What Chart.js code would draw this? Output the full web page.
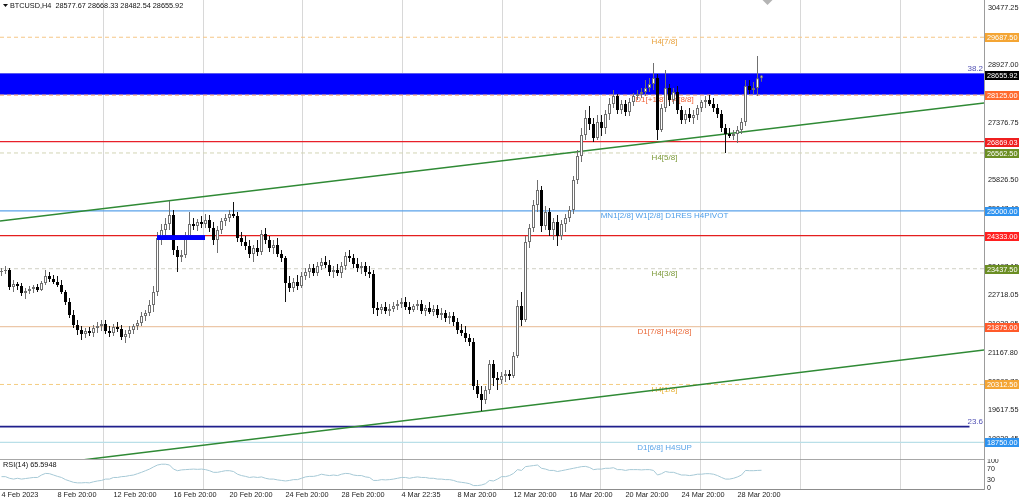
<!DOCTYPE html>
<html lang="en">
<head>
<meta charset="UTF-8">
<title>BTCUSD,H4</title>
<script src="https://cdn.jsdelivr.net/npm/chart.js"></script>
<style>
    html, body { margin: 0; padding: 0; background: #fff; }
    .wrap { position: relative; width: 1024px; height: 501px; overflow: hidden; background: #fff; }
    #mainChart { position: absolute; left: 0; top: 0; }
    #rsiChart { position: absolute; left: 0; top: 459px; }
</style>
</head>
<body>
<div class="wrap">
    <canvas id="mainChart" width="1024" height="459"></canvas>
    <canvas id="rsiChart" width="1024" height="42"></canvas>
</div>
<script>
// ---- candles (H4) ----
const openP = [23349,23376,23403,22944,23025,22971,22782,22836,22890,22944,
    22863,23052,23241,23160,23079,22998,22809,22539,22188,21918,
    21783,21675,21756,21702,21837,21891,21945,21756,21702,21864,
    21810,21594,21675,21783,21891,21972,22161,22242,22458,22809,
    24267,24483,24645,24888,23943,23754,23808,24321,24645,24591,
    24699,24645,24753,24537,24213,24483,24726,24807,24915,24861,
    24267,24159,24051,23835,23997,23889,24375,24213,23997,24078,
    23835,23727,23052,22917,23079,22971,23241,23349,23457,23322,
    23511,23619,23538,23349,23403,23322,23511,23781,23727,23565,
    23457,23511,23349,23295,22377,22323,22404,22296,22350,22431,
    22485,22539,22404,22323,22431,22485,22296,22377,22269,22350,
    22188,22242,22107,22161,21999,21783,21702,21567,21459,20271,
    20055,19893,20163,20865,20487,20433,20541,20595,20541,21081,
    22431,22053,24159,24537,25158,25563,24591,24969,24483,24699,
    24321,24645,24807,25023,25833,26481,27048,27507,27345,26967,
    27399,27237,27615,27885,28101,27723,27885,27669,27939,28101,
    28155,28209,28317,28425,28587,27183,27777,28317,27993,28209,
    27723,27453,27615,27507,27588,27777,27939,27993,27885,27777,
    27615,27237,27075,27021,27075,27183,27399,28371,28263,28317,
    28577.67];
const highP = [23457,23511,23457,23133,23079,23052,22917,22971,22998,23025,
    23106,23403,23349,23268,23241,23133,22863,22647,22323,22053,
    21891,21837,21864,21918,21999,22053,22053,21891,21945,21999,
    21918,21783,21891,21945,22053,22269,22323,22593,22971,24429,
    24645,24807,25266,25023,24051,23943,24429,24969,24807,24780,
    24861,24915,24888,24699,24591,24807,24915,25023,25239,24969,
    24429,24321,24213,24078,24213,24483,24537,24321,24213,24267,
    23943,23781,23241,23187,23268,23349,23457,23565,23565,23619,
    23727,23781,23673,23511,23565,23619,23889,23943,23835,23727,
    23619,23619,23511,23403,22539,22485,22539,22485,22539,22593,
    22647,22674,22539,22485,22593,22593,22458,22539,22458,22458,
    22377,22323,22269,22269,22107,21945,21891,21675,21567,20433,
    20271,20271,20973,20973,20649,20649,20703,20703,21189,22593,
    22809,24321,24645,25293,25833,25671,25131,25077,24807,24888,
    24753,24915,25131,25941,26643,27237,27723,27831,27507,27588,
    27588,27723,28047,28263,28155,27993,27993,28047,28182,28263,
    28317,28533,28587,28992,28695,27885,28803,28425,28317,28371,
    27831,27723,27777,27723,27858,27993,28101,28128,28047,27885,
    27723,27345,27237,27183,27291,27507,28533,28533,28479,29181,
    28668.33];
const lowP = [23241,23295,22863,22809,22863,22701,22620,22755,22782,22809,
    22836,22998,23079,23025,22944,22755,22458,22107,21837,21648,
    21513,21567,21621,21594,21702,21756,21675,21594,21621,21729,
    21513,21432,21567,21675,21783,21891,22026,22161,22269,22701,
    24078,24321,24483,23808,23349,23619,23727,24213,24483,24456,
    24537,24537,24429,24078,23862,24375,24591,24699,24807,24159,
    24051,23943,23727,23619,23781,23808,24105,23889,23835,23754,
    23619,22539,22809,22809,22863,22917,23133,23187,23241,23241,
    23403,23457,23241,23187,23241,23187,23403,23619,23457,23349,
    23295,23241,23187,22215,22161,22215,22215,22161,22269,22323,
    22377,22323,22215,22269,22323,22215,22161,22215,22161,22107,
    22053,21999,21945,21891,21675,21621,21459,21351,20163,19947,
    19596,19785,20055,20271,20163,20325,20379,20433,20487,21027,
    21891,21999,23997,24429,24969,24429,24483,24321,24213,24051,
    24213,24429,24699,24915,25725,26319,26913,27183,26859,26913,
    27021,27075,27453,27777,27615,27615,27561,27561,27831,27993,
    28047,28101,28209,28263,26913,27129,27669,27831,27885,27615,
    27345,27345,27399,27345,27453,27669,27777,27831,27669,27507,
    27129,26562,26967,26913,26832,27075,27291,28155,28155,28101,
    28482.54];
const closeP = [23376,23403,22944,23025,22971,22782,22836,22890,22944,22863,
    23052,23241,23160,23079,22998,22809,22539,22188,21918,21783,
    21675,21756,21702,21837,21891,21945,21756,21702,21864,21810,
    21594,21675,21783,21891,21972,22161,22242,22458,22809,24267,
    24483,24645,24888,23943,23754,23808,24321,24645,24591,24699,
    24645,24753,24537,24213,24483,24726,24807,24915,24861,24267,
    24159,24051,23835,23997,23889,24375,24213,23997,24078,23835,
    23727,23052,22917,23079,22971,23241,23349,23457,23322,23511,
    23619,23538,23349,23403,23322,23511,23781,23727,23565,23457,
    23511,23349,23295,22377,22323,22404,22296,22350,22431,22485,
    22539,22404,22323,22431,22485,22296,22377,22269,22350,22188,
    22242,22107,22161,21999,21783,21702,21567,21459,20271,20055,
    19893,20163,20865,20487,20433,20541,20595,20541,21081,22431,
    22053,24159,24537,25158,25563,24591,24969,24483,24699,24321,
    24645,24807,25023,25833,26481,27048,27507,27345,26967,27399,
    27237,27615,27885,28101,27723,27885,27669,27939,28101,28155,
    28209,28317,28425,28587,27183,27777,28317,27993,28209,27723,
    27453,27615,27507,27588,27777,27939,27993,27885,27777,27615,
    27237,27075,27021,27075,27183,27399,28371,28263,28317,28578,
    28655.92];

// ---- RSI(14) ----
const rsiVals = [42,42,36,33,36,33,35,37,39,39,
    48,54,53,48,43,39,31,26,21,19,
    19,20,19,23,26,28,33,33,39,39,
    42,43,46,48,53,58,64,70,78,85,
    88,88,85,70,64,67,68,69,70,69,
    70,68,64,58,58,61,64,64,61,51,
    46,43,39,41,39,41,36,33,33,30,
    28,26,28,31,31,36,41,43,43,46,
    51,48,46,48,46,51,54,53,48,46,
    46,41,39,28,28,31,30,31,33,36,
    39,39,36,39,41,39,39,36,36,33,
    33,31,31,28,23,21,19,16,9,9,
    11,16,28,26,33,42,42,46,54,68,
    65,79,81,83,85,73,70,65,65,61,
    64,67,70,73,76,79,80,76,68,70,
    70,73,73,75,68,68,65,68,68,68,
    67,68,68,65,48,53,61,58,58,53,
    48,48,46,48,51,51,53,53,51,46,
    39,33,33,36,41,48,65,64,64,65,
    65.59];

// ---- axes ----
const timeTicks = [0, 14, 28, 43, 57, 71, 85, 100, 114, 128, 142, 156, 170, 184];
const timeLabels = ['4 Feb 2023', '8 Feb 20:00', '12 Feb 20:00', '16 Feb 20:00', '20 Feb 20:00',
    '24 Feb 20:00', '28 Feb 20:00', '4 Mar 22:35', '8 Mar 20:00', '12 Mar 20:00',
    '16 Mar 20:00', '20 Mar 20:00', '24 Mar 20:00', '28 Mar 20:00'];
const priceTicks = [30477.25, 29702.10, 28927.00, 28151.90, 27376.75, 26601.60, 25826.50, 25047.40,
    24272.25, 23497.15, 22718.05, 21938.95, 21167.80, 20388.70, 19617.55, 18838.45];
const rsiTicks = [0, 30, 70, 100];
const gridBars = [25.375, 50.375, 75.125, 100.125, 125.125, 149.625, 174.625, 199.625, 224.625];

// ---- drawn objects ----
const levelValues = [29687.50, 28125.00, 26869.03, 26562.50, 25000.00, 24333.00, 23437.50, 21875.00, 20312.50, 18750.00];
const levelNames = ['H4[7/8]', 'D1[+1/8] H4[8/8]', '', 'H4[5/8]', 'MN1[2/8] W1[2/8] D1RES H4PIVOT', '',
    'H4[3/8]', 'D1[7/8] H4[2/8]', 'H4[1/8]', 'D1[6/8] H4SUP'];
const lastPrice = 28655.92;
const zoneTop = 28708, zoneBottom = 28142;
const smallZone = { from: 38.875, to: 50.875, top: 24330, bottom: 24215 };
const fibValues = [28708, 19175];
const fibLabels = ['38.2', '23.6'];
const trendUpper = [24726, 27912];
const trendLower = [18003, 21243];
const titleText = 'BTCUSD,H4  28577.67 28668.33 28482.54 28655.92';
const rsiTitle = 'RSI(14) 65.5948';

// styles
const levelStyles = [
    { line: '#f6c785', dash: [4, 3], box: '#f4a534', text: '#e9a23c' },
    { line: '#f59a70', dash: [4, 3], box: '#ff6a2e', text: '#f0643a' },
    { line: '#e8202a', dash: [], box: '#ef1f1f', text: null },
    { line: '#d2d4b4', dash: [4, 3], box: '#6b8e23', text: '#7d9a3a' },
    { line: '#5aa2ea', dash: [], box: '#2e93f0', text: '#4c9de8' },
    { line: '#e41e1e', dash: [], box: '#ff1f1f', text: null },
    { line: '#d0d0c4', dash: [4, 3], box: '#6b8e23', text: '#7d9a3a' },
    { line: '#ecc7a8', dash: [], box: '#ff5a2a', text: '#ea6a3a' },
    { line: '#f4cc80', dash: [4, 3], box: '#f4a534', text: '#e8b43a' },
    { line: '#b9dfe8', dash: [], box: '#2e93f0', text: '#5aa4e8' }
];

const xMin = -0.375, xMax = 245.625;
const yMax = 30693, yMin = 30693 - 27 * 459;
const FONT = '"Liberation Sans", Arial, sans-serif';
Chart.defaults.font.family = FONT;

const idx = openP.map((_, i) => i);
const bull = idx.map(i => closeP[i] >= openP[i]);

function hLine(v, x0, x1) {
    return [{ x: x0, y: v }, { x: x1, y: v }];
}

// no extra room for edge labels: the plot must fill the panel exactly
function noPad(s) {
    s.paddingTop = 0; s.paddingBottom = 0; s.paddingLeft = 0; s.paddingRight = 0;
}

const datasets = [];

// blue zone
datasets.push({
    type: 'line', data: hLine(zoneTop, xMin, xMax), order: 20,
    borderColor: '#5a5af2', borderWidth: 1, pointRadius: 0,
    backgroundColor: '#0000ff', fill: { value: zoneBottom }
});
datasets.push({
    type: 'line', data: hLine(zoneBottom, xMin, xMax), order: 19,
    borderColor: '#5a5af2', borderWidth: 1, pointRadius: 0, fill: false
});

// levels
levelValues.forEach((v, k) => {
    datasets.push({
        type: 'line', data: hLine(v, xMin, xMax), order: 15,
        borderColor: levelStyles[k].line, borderDash: levelStyles[k].dash,
        borderWidth: levelStyles[k].dash.length ? 1 : 1.3, pointRadius: 0, fill: false
    });
});

// fibo 23.6
datasets.push({
    type: 'line', data: hLine(fibValues[1], xMin, 242), order: 14,
    borderColor: '#1f1f8c', borderWidth: 1.6, pointRadius: 0, fill: false
});

// trend channel
[trendUpper, trendLower].forEach(t => {
    datasets.push({
        type: 'line', data: [{ x: xMin, y: t[0] }, { x: xMax, y: t[1] }], order: 12,
        borderColor: '#2f8a35', borderWidth: 1.5, pointRadius: 0, fill: false
    });
});

// candles
datasets.push({
    type: 'bar', order: 3, grouped: false,
    data: idx.map(i => ({ x: i, y: [lowP[i], highP[i]] })),
    backgroundColor: ctx => bull[ctx.dataIndex] ? '#707070' : '#111',
    barThickness: 1, borderWidth: 0, inflateAmount: 0
});
datasets.push({
    type: 'bar', order: 2, grouped: false,
    data: idx.map(i => ({ x: i, y: [openP[i], closeP[i]] })),
    backgroundColor: ctx => bull[ctx.dataIndex] ? '#ffffff' : '#000000',
    borderColor: ctx => bull[ctx.dataIndex] ? '#707070' : '#000000',
    borderWidth: 1, borderSkipped: false, barThickness: 3, inflateAmount: 0
});

// small blue block
datasets.push({
    type: 'line', data: hLine(smallZone.top, smallZone.from, smallZone.to), order: 1,
    borderColor: '#0000ff', borderWidth: 1, pointRadius: 0,
    backgroundColor: '#0000ff', fill: { value: smallZone.bottom }
});

const overlayPlugin = {
    id: 'overlay',
    beforeDatasetsDraw(chart) {
        const ctx = chart.ctx, ys = chart.scales.y, xs = chart.scales.x;
        const cx = xs.getPixelForValue(165.75);
        ctx.save();
        ctx.font = '8px ' + FONT;
        ctx.textAlign = 'center';
        ctx.textBaseline = 'middle';
        levelValues.forEach((v, k) => {
            if (!levelNames[k]) return;
            ctx.fillStyle = levelStyles[k].text;
            ctx.fillText(levelNames[k], cx, ys.getPixelForValue(v) + 5);
        });
        ctx.restore();
    },
    afterDraw(chart) {
        const ctx = chart.ctx, ys = chart.scales.y, xs = chart.scales.x;
        const right = chart.chartArea.right;
        ctx.save();
        // fibo labels
        ctx.font = '8px ' + FONT;
        ctx.fillStyle = '#5050b4';
        ctx.textAlign = 'right';
        ctx.textBaseline = 'bottom';
        fibValues.forEach((v, k) => ctx.fillText(fibLabels[k], right - 1, ys.getPixelForValue(v) - 0.5));
        // price boxes
        ctx.font = '7.3px ' + FONT;
        ctx.textAlign = 'left';
        ctx.textBaseline = 'middle';
        const box = (v, bg, fg) => {
            const y = Math.round(ys.getPixelForValue(v));
            ctx.fillStyle = bg;
            ctx.fillRect(right + 1, y - 4, 34, 9);
            ctx.fillStyle = fg;
            ctx.fillText(v.toFixed(2), right + 3, y + 0.5);
        };
        levelValues.forEach((v, k) => box(v, levelStyles[k].box, '#ffffff'));
        box(lastPrice, '#000000', '#ffffff');
        // title
        ctx.fillStyle = '#111';
        ctx.beginPath();
        ctx.moveTo(3, 4); ctx.lineTo(8, 4); ctx.lineTo(5.5, 7); ctx.closePath();
        ctx.fill();
        ctx.font = '7.3px ' + FONT;
        ctx.fillText(titleText, 10, 6);
        // shift marker
        const sx = xs.getPixelForValue(191.5);
        ctx.fillStyle = '#b4b4b4';
        ctx.beginPath();
        ctx.moveTo(sx - 5, 0); ctx.lineTo(sx + 5, 0); ctx.lineTo(sx, 5); ctx.closePath();
        ctx.fill();
        ctx.restore();
    }
};

new Chart(document.getElementById('mainChart'), {
    type: 'bar',
    data: { datasets: datasets },
    options: {
        responsive: false,
        animation: false,
        events: [],
        layout: { padding: 0 },
        plugins: { legend: { display: false }, tooltip: { enabled: false } },
        scales: {
            x: {
                type: 'linear', min: xMin, max: xMax, offset: false,
                afterBuildTicks: s => { s.ticks = gridBars.map(v => ({ value: v })); },
                afterFit: s => { s.height = 0; noPad(s); },
                ticks: { display: false },
                grid: { color: '#d8d8d8', drawTicks: false, offset: false },
                border: { display: false }
            },
            y: {
                type: 'linear', position: 'right', min: yMin, max: yMax,
                afterBuildTicks: s => { s.ticks = priceTicks.map(v => ({ value: v })); },
                afterFit: s => { s.width = 40; noPad(s); },
                grid: { display: false, drawTicks: false },
                border: { display: true, color: '#9c9c9c', width: 1 },
                ticks: { autoSkip: false, padding: 4, color: '#222', font: { size: 7.3 }, callback: v => v.toFixed(2) }
            }
        }
    },
    plugins: [overlayPlugin]
});

const rsiPlugin = {
    id: 'rsiTitle',
    afterDraw(chart) {
        const ctx = chart.ctx;
        ctx.save();
        ctx.font = '7.3px ' + FONT;
        ctx.fillStyle = '#111';
        ctx.textBaseline = 'middle';
        ctx.fillText(rsiTitle, 3, 6);
        ctx.restore();
    }
};

new Chart(document.getElementById('rsiChart'), {
    type: 'line',
    data: {
        datasets: [{
            data: rsiVals.map((v, i) => ({ x: i, y: v })), xAxisID: 'x',
            borderColor: '#a6c9d6', borderWidth: 1, pointRadius: 0, fill: false
        }]
    },
    options: {
        responsive: false,
        animation: false,
        events: [],
        layout: { padding: 0 },
        plugins: { legend: { display: false }, tooltip: { enabled: false } },
        scales: {
            x: {
                type: 'linear', position: 'bottom', min: xMin, max: xMax,
                afterBuildTicks: s => { s.ticks = timeTicks.map(v => ({ value: v })); },
                afterFit: s => { s.height = 12; noPad(s); },
                ticks: {
                    autoSkip: false, maxRotation: 0, minRotation: 0, align: 'start', padding: 2,
                    color: '#222', font: { size: 7.3 }, callback: (v, i) => timeLabels[i]
                },
                grid: { display: false, drawTicks: false },
                border: { display: true, color: '#8c8c8c', width: 1 }
            },
            xg: {
                type: 'linear', position: 'top', min: xMin, max: xMax,
                afterBuildTicks: s => { s.ticks = gridBars.map(v => ({ value: v })); },
                afterFit: s => { s.height = 0; noPad(s); },
                ticks: { display: false },
                grid: { color: '#d8d8d8', drawTicks: false },
                border: { display: true, color: '#505050', width: 1.5 }
            },
            y: {
                type: 'linear', position: 'right', min: -3.7, max: 107.3,
                afterBuildTicks: s => { s.ticks = rsiTicks.map(v => ({ value: v })); },
                afterFit: s => { s.width = 40; noPad(s); },
                grid: { display: false, drawTicks: false },
                border: { display: true, color: '#9c9c9c', width: 1 },
                ticks: { autoSkip: false, padding: 3, color: '#222', font: { size: 7 } }
            }
        }
    },
    plugins: [rsiPlugin]
});
</script>
</body>
</html>
